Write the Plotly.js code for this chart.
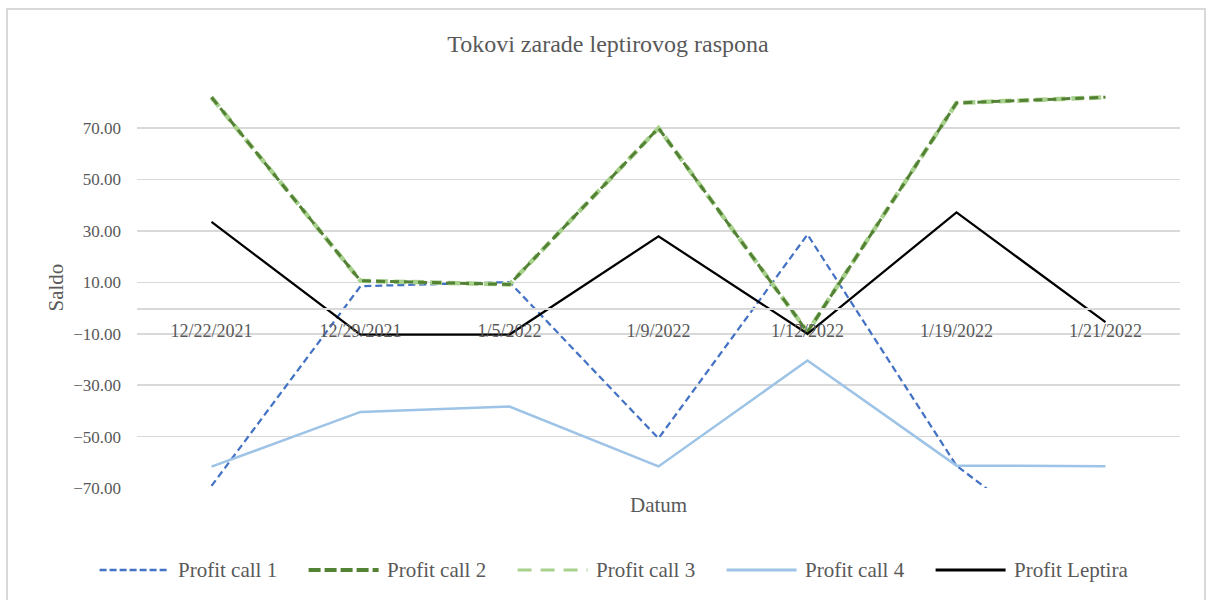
<!DOCTYPE html>
<html>
<head>
<meta charset="utf-8">
<script src="https://cdn.plot.ly/plotly-3.0.1.min.js"></script>
<style>
  html, body { margin: 0; padding: 0; background: #fff; }
  #wrap { position: relative; width: 1209px; height: 600px; overflow: hidden; }
  #chart { position: absolute; left: 0; top: 0; width: 1209px; height: 600px; }
  #frame { position: absolute; left: 6px; top: 8px; width: 1200px; height: 620px; border: 2px solid #d9d9d9; box-sizing: border-box; pointer-events: none; }
</style>
</head>
<body>
<div id="wrap">
  <div id="chart"></div>
  <div id="frame"></div>
</div>
<script>
const dates = ["12/22/2021", "12/29/2021", "1/5/2022", "1/9/2022", "1/12/2022", "1/19/2022", "1/21/2022"];
const profitCall1 = [-69.2, 8.5, 10.1, -50.7, 28.6, -61.3, -105.5];
const profitCall2 = [82.0, 10.6, 9.2, 70.0, -9.3, 79.8, 82.0];
const profitCall3 = [82.0, 10.6, 9.2, 70.0, -9.3, 79.8, 82.0];
const profitCall4 = [-61.7, -40.4, -38.3, -61.6, -20.4, -61.3, -61.5];
const profitLeptira = [33.5, -10.3, -10.3, 27.9, -10.0, 37.2, -5.5];
const seriesNames = ["Profit call 1", "Profit call 2", "Profit call 3", "Profit call 4", "Profit Leptira"];
const yTicks = [-70, -50, -30, -10, 10, 30, 50, 70];

const font = "Liberation Serif, Times New Roman, serif";
const grey = "#595959";

const styles = [
  { color: "#4472C4", width: 2.25, dash: "7px,4px" },
  { color: "#548235", width: 3, dash: "9px,5px" },
  { color: "#A9D18E", width: 4.5, dash: "12px,6px" },
  { color: "#9DC3E6", width: 2.5, dash: "solid" },
  { color: "#000000", width: 2.25, dash: "solid" }
];
const legendStyles = [
  { color: "#4472C4", width: 2.5, dash: "7px,3px" },
  { color: "#548235", width: 4, dash: "12px,4px" },
  { color: "#A9D18E", width: 3, dash: "14px,9px" },
  { color: "#9DC3E6", width: 3, dash: "solid" },
  { color: "#000000", width: 3, dash: "solid" }
];

const values = [profitCall1, profitCall2, profitCall3, profitCall4, profitLeptira];
// draw order: call 3 under call 2
const drawOrder = [0, 2, 1, 3, 4];
const traces = drawOrder.map(i => ({
  x: dates, y: values[i], name: seriesNames[i], type: "scatter", mode: "lines",
  line: styles[i], showlegend: false
}));

const yMin = -70, yMax = 86;
const L = 137, R = 29, T = 87, B = 112;
const W = 1209, H = 600;
const pw = W - L - R, ph = H - T - B;
const px2x = px => (px - L) / pw;
const py2y = py => (H - B - py) / ph;

// custom legend (long line samples like the reference)
const shapes = [];
const annotations = [];
const legY = py2y(570);
seriesNames.forEach((nm, i) => {
  const x0 = 99.6 + 209 * i;
  shapes.push({ type: "line", xref: "paper", yref: "paper",
    x0: px2x(x0), x1: px2x(x0 + 70), y0: legY, y1: legY, line: legendStyles[i] });
  annotations.push({ text: nm, xref: "paper", yref: "paper", x: px2x(x0 + 76), y: legY,
    xanchor: "left", yanchor: "middle", showarrow: false,
    font: { family: font, size: 21, color: grey } });
});
annotations.push(
  { text: "Saldo", xref: "paper", yref: "paper", x: px2x(55), y: 0.5,
    xanchor: "center", yanchor: "middle", textangle: -90, showarrow: false,
    font: { family: font, size: 21, color: grey } },
  { text: "Datum", xref: "paper", yref: "paper", x: px2x(658), y: py2y(505),
    xanchor: "center", yanchor: "middle", showarrow: false,
    font: { family: font, size: 21, color: grey } }
);

const layout = {
  width: W, height: H,
  margin: { l: L, r: R, t: T, b: B },
  paper_bgcolor: "#ffffff", plot_bgcolor: "#ffffff",
  font: { family: font, color: grey, size: 17 },
  title: { text: "Tokovi zarade leptirovog raspona", font: { family: font, size: 24, color: grey },
           xref: "container", x: 608 / W, y: 1 - 44 / H, xanchor: "center", yanchor: "middle" },
  xaxis: {
    type: "category", range: [-0.5, 6.5],
    anchor: "free", position: (0 - yMin) / (yMax - yMin),
    showline: true, linecolor: "#d9d9d9", linewidth: 1.5,
    showgrid: false, zeroline: false, ticks: "",
    ticklabelstandoff: 6,
    tickfont: { family: font, size: 18, color: grey },
    fixedrange: true
  },
  yaxis: {
    range: [yMin, yMax], tickvals: yTicks, tickformat: ".2f",
    showgrid: true, gridcolor: "#d9d9d9", gridwidth: 1.5,
    zeroline: false, showline: false, ticks: "",
    ticklabelstandoff: 15,
    tickfont: { family: font, size: 17, color: grey },
    fixedrange: true
  },
  showlegend: false,
  shapes: shapes,
  annotations: annotations
};

Plotly.newPlot("chart", traces, layout, { staticPlot: true, displayModeBar: false });
</script>
</body>
</html>
